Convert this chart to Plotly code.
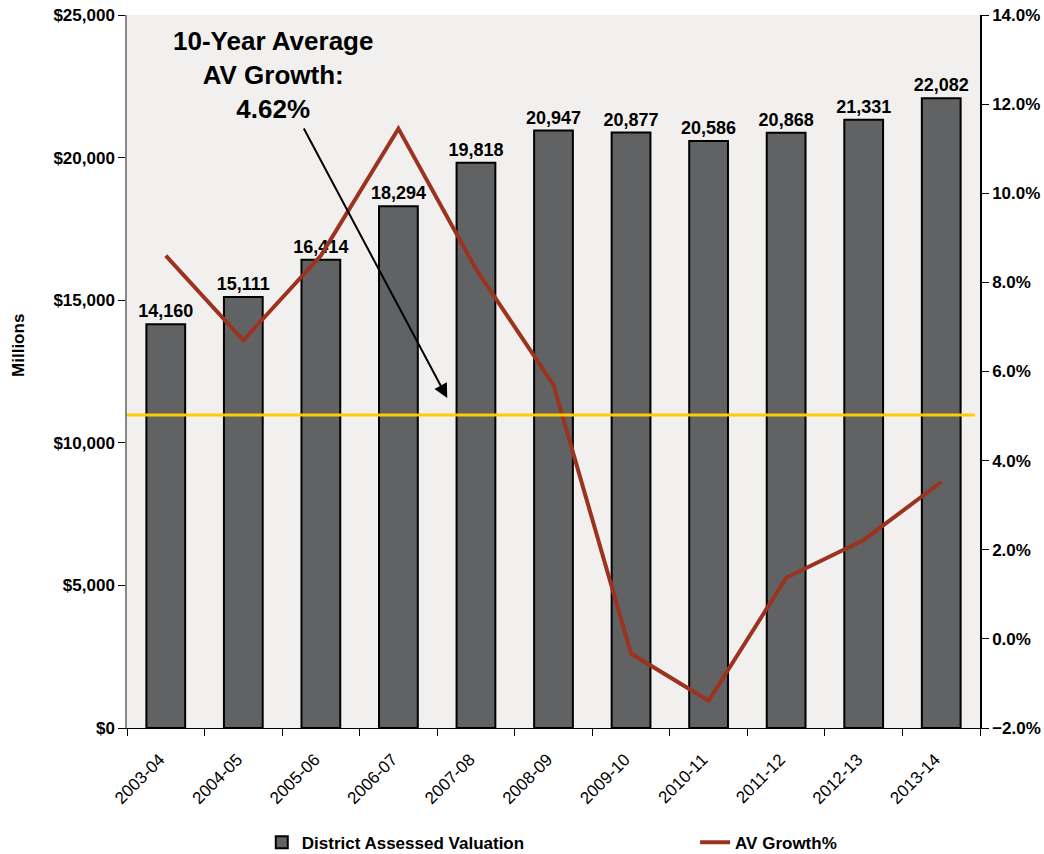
import plotly.graph_objects as go
from plotly.subplots import make_subplots

years = ["2003-04", "2004-05", "2005-06", "2006-07", "2007-08", "2008-09",
         "2009-10", "2010-11", "2011-12", "2012-13", "2013-14"]
assessed_valuation = [14160, 15111, 16414, 18294, 19818, 20947, 20877, 20586, 20868, 21331, 22082]
av_growth_pct = [8.6, 6.7, 8.6, 11.45, 8.3, 5.7, -0.33, -1.39, 1.37, 2.22, 3.52]
average_line_value = 10975  # yellow reference line (left axis, $ millions)
value_labels = [f"{v:,}" for v in assessed_valuation]

FONT = "Liberation Sans, Arial, sans-serif"

fig = make_subplots(specs=[[{"secondary_y": True}]])

fig.add_trace(go.Bar(
    x=years, y=assessed_valuation, name="District Assessed Valuation",
    marker=dict(color="#616264", line=dict(color="#000000", width=2)),
    text=value_labels, textposition="outside", cliponaxis=False, constraintext="none",
    textfont=dict(family=FONT, size=18, color="#000000", weight="bold"),
    legend="legend",
), secondary_y=False)

fig.add_trace(go.Scatter(
    x=years, y=av_growth_pct, name="AV Growth%", mode="lines",
    line=dict(color="#9c3320", width=4),
    legend="legend2",
), secondary_y=True)

fig.add_shape(type="line", xref="paper", yref="y", x0=0, x1=0.994,
              y0=average_line_value, y1=average_line_value,
              line=dict(color="#ffcc00", width=3))

legend_font = dict(family=FONT, size=17, color="#000000", weight="bold")
fig.update_layout(
    width=1044, height=854,
    margin=dict(l=127, r=64, t=15, b=126, autoexpand=False),
    paper_bgcolor="#ffffff", plot_bgcolor="#f1f0ee",
    bargap=0.5,
    showlegend=True,
    legend=dict(x=0.158, xanchor="left", y=-0.161, yanchor="middle",
                font=legend_font, bgcolor="rgba(0,0,0,0)"),
    legend2=dict(x=0.666, xanchor="left", y=-0.161, yanchor="middle",
                 font=legend_font, bgcolor="rgba(0,0,0,0)"),
    font=dict(family=FONT, color="#000000"),
)

fig.update_xaxes(
    type="category", domain=[0, 1], tickson="boundaries", ticks="outside", ticklen=7,
    tickcolor="#000000", tickangle=-45, tickfont=dict(family=FONT, size=17, color="#000000"),
    ticklabelstandoff=14, ticklabelshift=-6,
    showline=True, linecolor="#000000", linewidth=1, showgrid=False, automargin=False,
)
fig.update_yaxes(
    range=[0, 25000], dtick=5000, tickprefix="$", tickformat=",d",
    ticks="outside", ticklen=7, tickcolor="#000000",
    tickfont=dict(family=FONT, size=17, color="#000000", weight="bold"),
    showline=True, linecolor="#888888", linewidth=1.5, showgrid=False, zeroline=False,
    automargin=False, secondary_y=False,
)
fig.update_yaxes(
    range=[-2, 14], dtick=2, tickformat=".1f", ticksuffix="%",
    ticks="outside", ticklen=7, tickcolor="#000000",
    tickfont=dict(family=FONT, size=17, color="#000000", weight="bold"),
    showline=True, linecolor="#000000", linewidth=1.5, showgrid=False, zeroline=False,
    automargin=False, secondary_y=True,
)

fig.add_annotation(
    text="10-Year Average<br>AV Growth:<br>4.62%", xref="paper", yref="paper",
    x=0.171, y=0.916, xanchor="center", yanchor="middle", showarrow=False,
    font=dict(family=FONT, size=26, color="#000000", weight="bold"), align="center",
)
fig.add_annotation(
    text="", x=3.63, y=11571, xref="x", yref="y", ax=1.77, ay=21073, axref="x", ayref="y",
    showarrow=True, arrowhead=2, arrowsize=1.4, arrowwidth=2, arrowcolor="#000000",
)
fig.add_annotation(
    text="Millions", xref="paper", yref="paper", x=-0.128, y=0.537,
    xanchor="center", yanchor="middle", textangle=-90, showarrow=False,
    font=dict(family=FONT, size=17, color="#000000", weight="bold"),
)

fig.write_html("out.html", config={"displayModeBar": False},
               post_script="document.body.style.margin='0';document.body.style.overflow='hidden';")
